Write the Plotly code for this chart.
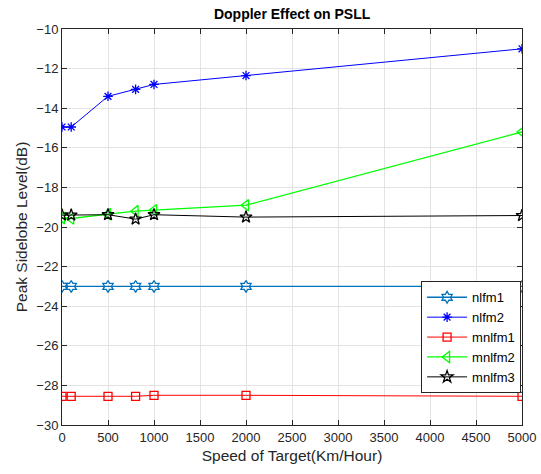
import plotly.graph_objects as go

speed = [0, 100, 500, 800, 1000, 2000, 5000]
nlfm1 = [-23.0, -23.0, -23.0, -23.0, -23.0, -23.0, -23.0]
nlfm2 = [-14.95, -14.95, -13.4, -13.05, -12.8, -12.35, -11.0]
mnlfm1 = [-28.55, -28.55, -28.55, -28.55, -28.5, -28.5, -28.55]
mnlfm2 = [-19.55, -19.57, -19.35, -19.2, -19.15, -18.9, -15.2]
mnlfm3 = [-19.4, -19.4, -19.38, -19.6, -19.38, -19.5, -19.42]

x_ticks = list(range(0, 5001, 500))
y_ticks = list(range(-30, -9, 2))

series = [
    ("nlfm1", nlfm1, "#0072BD", "hexagram-open", 1.3, 9),
    ("nlfm2", nlfm2, "#0000FF", "asterisk-open", 1.0, 8),
    ("mnlfm1", mnlfm1, "#FF0000", "square-open", 1.0, 8),
    ("mnlfm2", mnlfm2, "#00FF00", "triangle-left-open", 1.3, 10),
    ("mnlfm3", mnlfm3, "#000000", "star-open", 1.0, 9),
]

fig = go.Figure()
for name, vals, color, symbol, lw, ms in series:
    fig.add_trace(go.Scatter(
        x=speed, y=vals, name=name, mode="lines+markers",
        line=dict(color=color, width=lw),
        marker=dict(symbol=symbol, size=ms, color=color,
                    line=dict(color=color, width=1.3)),
    ))

axis_common = dict(
    showline=True, linecolor="#262626", linewidth=1, mirror="ticks",
    ticks="inside", ticklen=5, tickcolor="#262626",
    showgrid=True, gridcolor="#e3e3e3", gridwidth=1,
    zeroline=False, automargin=False,
    tickfont=dict(size=13, color="#262626"),
)

fig.update_layout(
    width=541, height=474,
    margin=dict(l=62, r=19, t=29, b=49),
    paper_bgcolor="white", plot_bgcolor="white",
    font=dict(family="Liberation Sans, Arial, sans-serif", color="#262626"),
    title=dict(text="<b>Doppler Effect on PSLL</b>", x=0.54, xanchor="center",
               y=0.97, yanchor="middle", font=dict(size=14, color="#000000")),
    xaxis=dict(range=[0, 5000], tickvals=x_ticks,
               title=dict(text="Speed of Target(Km/Hour)", font=dict(size=15.5), standoff=6),
               **axis_common),
    yaxis=dict(range=[-30, -10], tickvals=y_ticks,
               title=dict(text="Peak Sidelobe Level(dB)", font=dict(size=15.5), standoff=4),
               **axis_common),
    legend=dict(x=0.998, y=0.08, xanchor="right", yanchor="bottom",
                bgcolor="white", bordercolor="#262626", borderwidth=1,
                font=dict(size=13, color="#000000"), tracegroupgap=0,
                itemwidth=40),
    showlegend=True,
)

fig.write_html("out.html")
